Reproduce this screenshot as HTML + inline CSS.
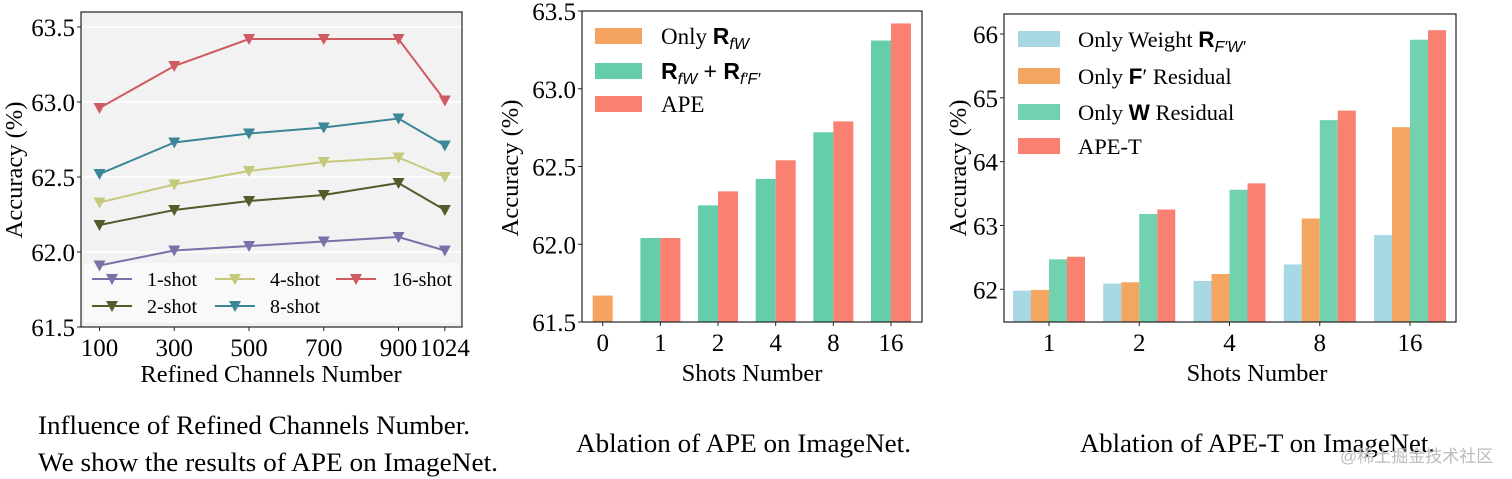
<!DOCTYPE html>
<html><head><meta charset="utf-8">
<style>
html,body{margin:0;padding:0;background:#fff;}
svg{display:block;font-family:"Liberation Serif",serif;}
</style></head>
<body>
<svg id="svg" width="1512" height="479" viewBox="0 0 1512 479" xmlns="http://www.w3.org/2000/svg">
<g id="c1"></g>
<g id="c2"></g>
<g id="c3"></g>
<text x="38" y="434" font-size="26" textLength="432" lengthAdjust="spacingAndGlyphs">Influence of Refined Channels Number.</text>
<text x="38" y="471" font-size="26" textLength="460" lengthAdjust="spacingAndGlyphs">We show the results of APE on ImageNet.</text>
<text x="576" y="452" font-size="26" textLength="335" lengthAdjust="spacingAndGlyphs">Ablation of APE on ImageNet.</text>
<text x="1080" y="452" font-size="26" textLength="355" lengthAdjust="spacingAndGlyphs">Ablation of APE-T on ImageNet.</text>
<text x="1340" y="462" font-size="17" fill="#bbb" font-family="'Liberation Sans','Noto Sans CJK SC',sans-serif">@稀土掘金技术社区</text>
</svg>
<script>
// ---------- Chart 1 data ----------
const c1X = [100, 300, 500, 700, 900, 1024];
const c1YTicks = [61.5, 62.0, 62.5, 63.0, 63.5];
const s1shot = [61.91, 62.01, 62.04, 62.07, 62.10, 62.01];
const s2shot = [62.18, 62.28, 62.34, 62.38, 62.46, 62.28];
const s4shot = [62.33, 62.45, 62.54, 62.60, 62.63, 62.50];
const s8shot = [62.52, 62.73, 62.79, 62.83, 62.89, 62.71];
const s16shot = [62.96, 63.24, 63.42, 63.42, 63.42, 63.01];
const c1Names = ["1-shot", "2-shot", "4-shot", "8-shot", "16-shot"];
// ---------- Chart 2 data ----------
const c2Cats = ["0", "1", "2", "4", "8", "16"];
const c2YTicks = [61.5, 62.0, 62.5, 63.0, 63.5];
const onlyRfw = [61.67, null, null, null, null, null];
const rfwPlus = [null, 62.04, 62.25, 62.42, 62.72, 63.31];
const apeVals = [null, 62.04, 62.34, 62.54, 62.79, 63.42];
// ---------- Chart 3 data ----------
const c3Cats = ["1", "2", "4", "8", "16"];
const c3YTicks = [62, 63, 64, 65, 66];
const onlyWeight = [61.98, 62.09, 62.13, 62.39, 62.85];
const onlyF = [61.99, 62.11, 62.24, 63.11, 64.54];
const onlyW = [62.47, 63.18, 63.56, 64.65, 65.91];
const apeT = [62.51, 63.25, 63.66, 64.80, 66.06];

const TF = 25, AF = 24.5;
const NS = "http://www.w3.org/2000/svg";
function mk(parent, tag, attrs, text) {
  const e = document.createElementNS(NS, tag);
  for (const k in attrs) e.setAttribute(k, attrs[k]);
  if (text !== undefined) e.textContent = text;
  parent.appendChild(e);
  return e;
}
function lin(d0, d1, r0, r1) { return v => r0 + (v - d0) * (r1 - r0) / (d1 - d0); }

// ================= Chart 1 =================
(function () {
  const g = document.getElementById("c1");
  const L = 81, R = 462, T = 12, B = 327;
  const x = lin(100, 900, 99.5, 398.5);
  const y = lin(61.5, 63.5, 327, 27);
  let e = mk(g, "rect", { x: L, y: T, width: R - L, height: B - T, fill: "#f2f2f2" });
  
  
  c1YTicks.forEach(t => {
    let gl = mk(g, "line", { x1: L, x2: R, y1: y(t), y2: y(t), stroke: "#fff", "stroke-width": 1.5 });
    
    
    let tk = mk(g, "line", { x1: L - 4, x2: L, y1: y(t), y2: y(t), stroke: "#222" });
    
    
    let lb = mk(g, "text", { x: L - 6, y: y(t) + 9, "font-size": TF, "text-anchor": "end" }, t.toFixed(1));
    
    
  });
  c1X.forEach(v => {
    let tk = mk(g, "line", { x1: x(v), x2: x(v), y1: B, y2: B + 4, stroke: "#222" });
    
    
    let lb = mk(g, "text", { x: x(v), y: B + 29, "font-size": TF, "text-anchor": "middle" }, String(v));
    
    
  });
  let lg = mk(g, "rect", { x: 84, y: 263, width: 375, height: 60, fill: "#fafafa", opacity: 0.9 });
  
  
  const series = [s1shot, s2shot, s4shot, s8shot, s16shot];
  const colors = ["#7b70a8", "#555a2a", "#c6c97c", "#3b8797", "#d05a62"];
  series.forEach((s, i) => {
    const pts = s.map((v, j) => x(c1X[j]) + "," + y(v)).join(" ");
    let pl = mk(g, "polyline", { points: pts, fill: "none", stroke: colors[i], "stroke-width": 2 });
    
    
    s.forEach((v, j) => {
      const cx = x(c1X[j]), cy = y(v);
      let m = mk(g, "path", { d: `M${cx - 6},${cy - 5}L${cx + 6},${cy - 5}L${cx},${cy + 6}Z`, fill: colors[i] });
      
      
    });
  });
  const legPos = [[92, 279], [92, 306], [215, 279], [215, 306], [336, 279]];
  [0, 1, 2, 3, 4].forEach(i => {
    const [lx, ly] = legPos[i];
    const eg = mk(g, "g", {});
    
    
    mk(eg, "line", { x1: lx, x2: lx + 40, y1: ly, y2: ly, stroke: colors[i], "stroke-width": 2 });
    mk(eg, "path", { d: `M${lx + 14},${ly - 5}L${lx + 26},${ly - 5}L${lx + 20},${ly + 6}Z`, fill: colors[i] });
    mk(eg, "text", { x: i === 4 ? lx + 56 : lx + 55, y: ly + 7, "font-size": 20 }, c1Names[i]);
  });
  let fr = mk(g, "rect", { x: L, y: T, width: R - L, height: B - T, fill: "none", stroke: "#222", "stroke-width": 1.2 });
  
  
  let yt = mk(g, "text", { x: 0, y: 0, "font-size": AF, "text-anchor": "middle", transform: "translate(22,170) rotate(-90)" }, "Accuracy (%)");
  
  
  let xt = mk(g, "text", { x: 271, y: 382, "font-size": AF, "text-anchor": "middle" }, "Refined Channels Number");
  
  
})();

// ================= Chart 2 =================
(function () {
  const g = document.getElementById("c2");
  const L = 582, R = 922, T = 11, B = 322;
  const x = lin(0, 5, 602.7, 891);
  const y = lin(61.5, 63.5, 322, 11);
  const bw = 20;
  c2YTicks.forEach(t => {
    let tk = mk(g, "line", { x1: L - 4, x2: L, y1: y(t), y2: y(t), stroke: "#222" });
    
    
    let lb = mk(g, "text", { x: L - 6, y: y(t) + 9, "font-size": TF, "text-anchor": "end" }, t.toFixed(1));
    
    
  });
  c2Cats.forEach((c, i) => {
    let tk = mk(g, "line", { x1: x(i), x2: x(i), y1: B, y2: B + 4, stroke: "#222" });
    
    
    let lb = mk(g, "text", { x: x(i), y: B + 29, "font-size": TF, "text-anchor": "middle" }, c);
    
    
  });
  const draw = (arr, off, color, name) => arr.forEach((v, i) => {
    if (v === null) return;
    const cx = x(i) + off;
    let r = mk(g, "rect", { x: cx - bw / 2, y: y(v), width: bw, height: B - y(v), fill: color });
    
    
  });
  draw(onlyRfw, 0, "#f4a460", "only-rfw");
  draw(rfwPlus, -bw / 2, "#66cdaa", "rfw-plus-rff");
  draw(apeVals, bw / 2, "#fa8072", "ape");
  const leg = [["#f4a460", 28], ["#66cdaa", 63], ["#fa8072", 96]];
  const S = 'font-family="Liberation Sans,sans-serif"';
  const labels = [
    `<tspan>Only </tspan><tspan ${S} font-weight="bold">R</tspan><tspan ${S} font-style="italic" font-size="16" dy="5">fW</tspan>`,
    `<tspan ${S} font-weight="bold">R</tspan><tspan ${S} font-style="italic" font-size="16" dy="5">fW</tspan><tspan dy="-5" ${S}> + </tspan><tspan ${S} font-weight="bold">R</tspan><tspan ${S} font-style="italic" font-size="16" dy="5">f′F′</tspan>`,
    'APE'];
  const lnames = ["only-rfw", "rfw-plus-rff", "ape"];
  leg.forEach(([c, ly], i) => {
    const eg = mk(g, "g", {});
    
    
    mk(eg, "rect", { x: 595, y: ly, width: 47, height: 16, fill: c });
    const t = mk(eg, "text", { x: 661, y: ly + 16, "font-size": 23 });
    t.innerHTML = labels[i];
  });
  let fr = mk(g, "rect", { x: L, y: T, width: R - L, height: B - T, fill: "none", stroke: "#222", "stroke-width": 1.2 });
  
  
  let yt = mk(g, "text", { x: 0, y: 0, "font-size": AF, "text-anchor": "middle", transform: "translate(518,168) rotate(-90)" }, "Accuracy (%)");
  
  
  let xt = mk(g, "text", { x: 752, y: 381, "font-size": AF, "text-anchor": "middle" }, "Shots Number");
  
  
})();

// ================= Chart 3 =================
(function () {
  const g = document.getElementById("c3");
  const L = 1004, R = 1456, T = 14, B = 322;
  const x = lin(0, 4, 1049, 1410);
  const y = lin(62, 66, 289.3, 34);
  const bw = 18;
  c3YTicks.forEach(t => {
    let tk = mk(g, "line", { x1: L - 4, x2: L, y1: y(t), y2: y(t), stroke: "#222" });
    
    
    let lb = mk(g, "text", { x: L - 6, y: y(t) + 9, "font-size": TF, "text-anchor": "end" }, String(t));
    
    
  });
  c3Cats.forEach((c, i) => {
    let tk = mk(g, "line", { x1: x(i), x2: x(i), y1: B, y2: B + 4, stroke: "#222" });
    
    
    let lb = mk(g, "text", { x: x(i), y: B + 29, "font-size": TF, "text-anchor": "middle" }, c);
    
    
  });
  const draw = (arr, off, color, name) => arr.forEach((v, i) => {
    const cx = x(i) + off;
    const top = y(v);
    let r = mk(g, "rect", { x: cx - bw / 2, y: top, width: bw, height: B - top, fill: color });
    
    
  });
  draw(onlyWeight, -1.5 * bw, "#a8d8e4", "only-weight");
  draw(onlyF, -0.5 * bw, "#f2a662", "only-f-residual");
  draw(onlyW, 0.5 * bw, "#72d1ae", "only-w-residual");
  draw(apeT, 1.5 * bw, "#fa8072", "ape-t");
  const leg = [["#a8d8e4", 31], ["#f2a662", 68], ["#72d1ae", 104], ["#fa8072", 138]];
  const S = 'font-family="Liberation Sans,sans-serif"';
  const labels = [
    `<tspan>Only Weight </tspan><tspan ${S} font-weight="bold">R</tspan><tspan ${S} font-style="italic" font-size="16" dy="5">F′W′</tspan>`,
    `<tspan>Only </tspan><tspan ${S} font-weight="bold">F</tspan><tspan>′ Residual</tspan>`,
    `<tspan>Only </tspan><tspan ${S} font-weight="bold">W</tspan><tspan> Residual</tspan>`,
    'APE-T'];
  const lnames = ["only-weight", "only-f-residual", "only-w-residual", "ape-t"];
  leg.forEach(([c, ly], i) => {
    const eg = mk(g, "g", {});
    
    
    mk(eg, "rect", { x: 1018, y: ly, width: 42, height: 16, fill: c });
    const t = mk(eg, "text", { x: 1078, y: ly + 16, "font-size": 22.5 });
    t.innerHTML = labels[i];
  });
  let fr = mk(g, "rect", { x: L, y: T, width: R - L, height: B - T, fill: "none", stroke: "#222", "stroke-width": 1.2 });
  
  
  let yt = mk(g, "text", { x: 0, y: 0, "font-size": AF, "text-anchor": "middle", transform: "translate(966,168) rotate(-90)" }, "Accuracy (%)");
  
  
  let xt = mk(g, "text", { x: 1257, y: 381, "font-size": AF, "text-anchor": "middle" }, "Shots Number");
  
  
})();
</script>
</body></html>
